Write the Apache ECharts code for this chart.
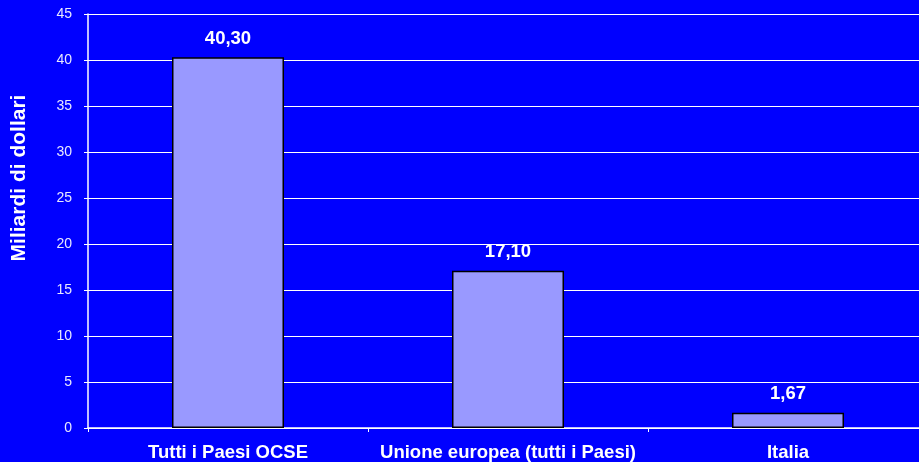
<!DOCTYPE html>
<html>
<head>
<meta charset="utf-8">
<script src="https://cdn.jsdelivr.net/npm/echarts@6/dist/echarts.min.js"></script>
<style>
  html, body { margin: 0; padding: 0; background: #0000ff; }
  #chart { width: 919px; height: 462px; }
</style>
</head>
<body>
<div id="chart"></div>
<script>
  const categories = ['Tutti i Paesi OCSE', 'Unione europea (tutti i Paesi)', 'Italia'];
  const values = [40.30, 17.10, 1.67];
  const yTicks = { min: 0, max: 45, interval: 5 };

  const chart = echarts.init(document.getElementById('chart'));
  chart.setOption({
    backgroundColor: '#0000ff',
    textStyle: { fontFamily: 'Arial, "Liberation Sans", sans-serif' },
    grid: { left: 88, right: -9, top: 14, bottom: 34, containLabel: false, outerBoundsMode: 'none' },
    xAxis: {
      type: 'category',
      data: categories,
      axisLine: { lineStyle: { color: '#ffffff', width: 1.5 } },
      axisTick: { show: true, length: 4, lineStyle: { color: '#ffffff' } },
      axisLabel: { color: '#ffffff', fontWeight: 'bold', fontSize: 18.5, margin: 15, interval: 0 }
    },
    yAxis: {
      type: 'value',
      min: yTicks.min,
      max: yTicks.max,
      interval: yTicks.interval,
      name: 'Miliardi di dollari',
      nameLocation: 'middle',
      nameGap: 58,
      nameTextStyle: { color: '#ffffff', fontWeight: 'bold', fontSize: 21, padding: [0, 0, 0, 86] },
      axisLine: { show: true, lineStyle: { color: '#ffffff', width: 1.5 } },
      axisTick: { show: true, length: 4, lineStyle: { color: '#ffffff' } },
      axisLabel: { color: '#e8e8ff', fontSize: 14, margin: 16 },
      splitLine: { show: true, lineStyle: { color: '#ffffff', width: 1 } }
    },
    series: [{
      type: 'bar',
      data: values,
      barWidth: '40%',
      itemStyle: { color: '#9999ff', borderColor: '#000000', borderWidth: 1.5 },
      label: {
        show: true,
        position: 'top',
        distance: 9,
        color: '#ffffff',
        fontWeight: 'bold',
        fontSize: 18.5,
        formatter: (p) => p.value.toFixed(2).replace('.', ',')
      }
    }]
  });
</script>
</body>
</html>
